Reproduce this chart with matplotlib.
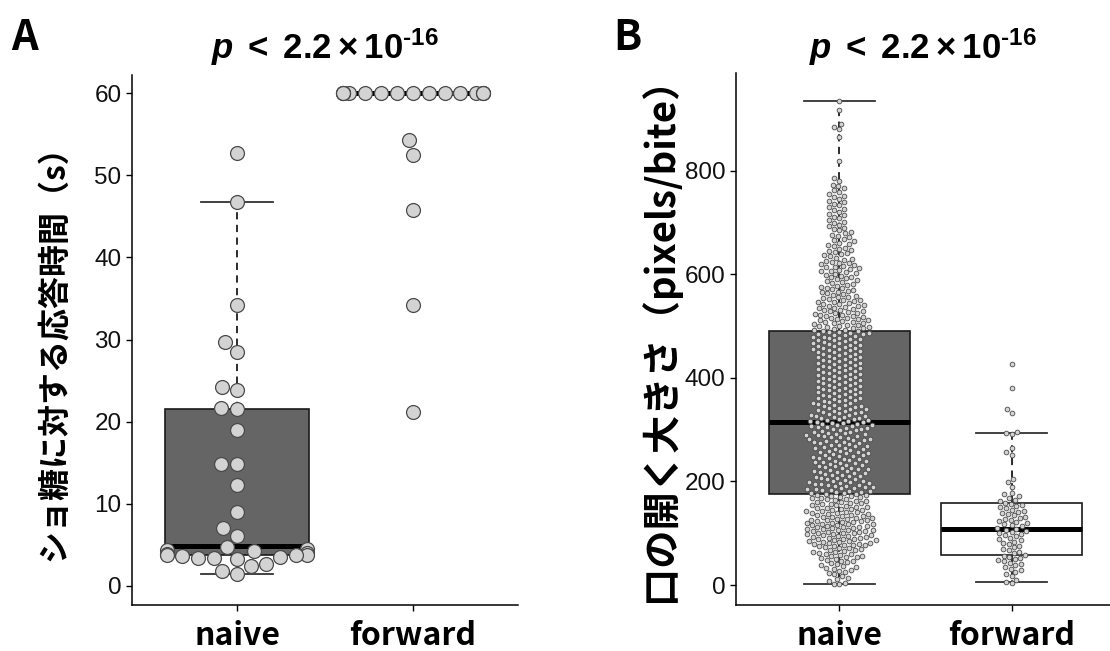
import numpy as np
import pandas as pd
import matplotlib
matplotlib.use('Agg')
import matplotlib.pyplot as plt
import seaborn as sns

# ---------------- data ----------------
groups = ['naive', 'forward']
title_text = r'$p\;<\;2.2\times10^{\text{-16}}$'
ylabel_a = 'ショ糖に対する応答時間（s）'
ylabel_b = '口の開く大きさ（pixels/bite）'
yticks_a = [0, 10, 20, 30, 40, 50, 60]
yticks_b = [0, 200, 400, 600, 800]

# Panel A: response time (s)
naive_a = [52.7, 46.7, 34.2, 29.7, 28.5, 24.2, 23.8, 21.7, 21.5, 19.0, 14.8, 14.8,
           12.3, 9.0, 7.0, 6.1, 4.7, 4.5, 4.3, 4.2, 4.0, 3.9, 3.8, 3.7, 3.7, 3.6,
           3.5, 3.4, 3.4, 3.3, 2.6, 2.4, 1.8, 1.4]
forward_a = [60] * 16 + [54.3, 52.5, 45.8, 34.2, 21.2]
box_a_naive = dict(whislo=1.4, q1=3.7, med=4.8, q3=21.5, whishi=46.7)
box_a_forward = dict(whislo=60, q1=60, med=60, q3=60, whishi=60)

# Panel B: mouth opening (pixels/bite)
naive_b_sparse = [935, 917, 890, 885, 880, 865, 819, 785, 781, 1]
naive_b_bin_start = 0
naive_b_bin_width = 25
naive_b_counts = [8, 14, 20, 28, 30, 26, 24,
                  26, 22, 22, 22, 24, 26,
                  22, 20, 20, 20, 20, 22, 24,
                  22, 20, 16, 14, 16, 12, 10, 9, 8, 8, 7]
forward_b_sparse = [426, 380, 339, 333, 295, 293, 291, 265, 256, 251, 204, 198, 190, 5]
forward_b_bin_start = 0
forward_b_bin_width = 20
forward_b_counts = [3, 6, 9, 7, 8, 10, 9, 9, 6]
box_b_naive = dict(whislo=1, q1=176, med=315, q3=490, whishi=935)
box_b_forward = dict(whislo=5, q1=57, med=109, q3=158, whishi=293)


def expand(start, width, counts):
    vals = []
    for i, c in enumerate(counts):
        lo = start + i * width
        vals += [lo + (k + 0.5) * width / c for k in range(c)]
    return vals


naive_b = naive_b_sparse + expand(naive_b_bin_start, naive_b_bin_width, naive_b_counts)
forward_b = forward_b_sparse + expand(forward_b_bin_start, forward_b_bin_width, forward_b_counts)

# ---------------- style ----------------
CJK = 'Noto Sans CJK JP'
plt.rcParams['font.family'] = ['Liberation Sans', 'DejaVu Sans']
plt.rcParams['mathtext.fontset'] = 'custom'
plt.rcParams['mathtext.rm'] = 'Liberation Sans:bold'
plt.rcParams['mathtext.bf'] = 'Liberation Sans:bold'
plt.rcParams['mathtext.it'] = 'Liberation Sans:italic:bold'

BOX_DARK = '#656565'
PT_FACE = '#d3d3d3'
PT_EDGE = '#4a4a4a'

fig = plt.figure(figsize=(11.1, 6.51), dpi=100)
W, H = 1110, 651
axA = fig.add_axes([132 / W, 46 / H, 386 / W, 530 / H])
axB = fig.add_axes([736 / W, 46 / H, 379 / W, 532 / H])


def draw_panel(ax, stats, faces, data, ylim, yticks, msize, mlw, ylab, ylab_xy, ylab_fs,
               title_x, letter, letter_x):
    ax.set_xlim(-0.6, 1.6)
    ax.set_ylim(*ylim)
    bxp_stats = []
    for s, g in zip(stats, groups):
        d = dict(s)
        d['label'] = g
        d['fliers'] = []
        bxp_stats.append(d)
    bp = ax.bxp(bxp_stats, positions=[0, 1], widths=0.82, patch_artist=True,
                showfliers=False,
                boxprops=dict(linewidth=1.2, edgecolor='#1a1a1a'),
                medianprops=dict(linewidth=3.6, color='black', solid_capstyle='butt'),
                whiskerprops=dict(linewidth=1.3, color='#1a1a1a', linestyle=(0, (4, 3))),
                capprops=dict(linewidth=1.3, color='#333333'),
                manage_ticks=False, zorder=2)
    for patch, fc in zip(bp['boxes'], faces):
        patch.set_facecolor(fc)
    df = pd.DataFrame({'group': [groups[0]] * len(data[0]) + [groups[1]] * len(data[1]),
                       'value': list(data[0]) + list(data[1])})
    sns.swarmplot(data=df, x='group', y='value', order=groups, ax=ax, size=msize,
                  color=PT_FACE, edgecolor=PT_EDGE, linewidth=mlw, zorder=3,
                  warn_thresh=1.0)
    ax.set_xlim(-0.6, 1.6)
    ax.set_ylim(*ylim)
    ax.set_xlabel('')
    ax.set_ylabel('')
    ax.set_xticks([0, 1])
    ax.set_xticklabels(groups, fontsize=23, fontweight='bold', family=CJK)
    ax.set_yticks(yticks)
    ax.set_yticklabels([str(t) for t in yticks], fontsize=17.5, color='#111111')
    for sp in ['top', 'right']:
        ax.spines[sp].set_visible(False)
    for sp in ['left', 'bottom']:
        ax.spines[sp].set_linewidth(1.1)
        ax.spines[sp].set_color('black')
    ax.tick_params(axis='y', length=4.5, width=1.0, pad=3)
    ax.tick_params(axis='x', length=4.5, width=1.0, pad=6)
    fig.text(ylab_xy[0] / W, 1 - ylab_xy[1] / H, ylab, rotation=90, ha='center', va='center',
             fontsize=ylab_fs, fontweight='bold', family=[CJK, 'DejaVu Sans'])
    fig.text(title_x / W, 1 - 47 / H, title_text, ha='center', va='center', fontsize=25)
    fig.text(letter_x / W, 1 - 38 / H, letter, ha='center', va='center', fontsize=30,
             fontweight='bold', family=CJK)


draw_panel(axA, [box_a_naive, box_a_forward], [BOX_DARK, 'white'], [naive_a, forward_a],
           (-2.35, 62.23), yticks_a, 10, 0.9, ylabel_a, (55, 345), 23, 325, 'A', 25)
draw_panel(axB, [box_b_naive, box_b_forward], [BOX_DARK, 'white'], [naive_b, forward_b],
           (-38.6, 988.6), yticks_b, 3.4, 0.6, ylabel_b, (660, 330), 27.5, 923, 'B', 627)

fig.savefig('out.png', dpi=100)
